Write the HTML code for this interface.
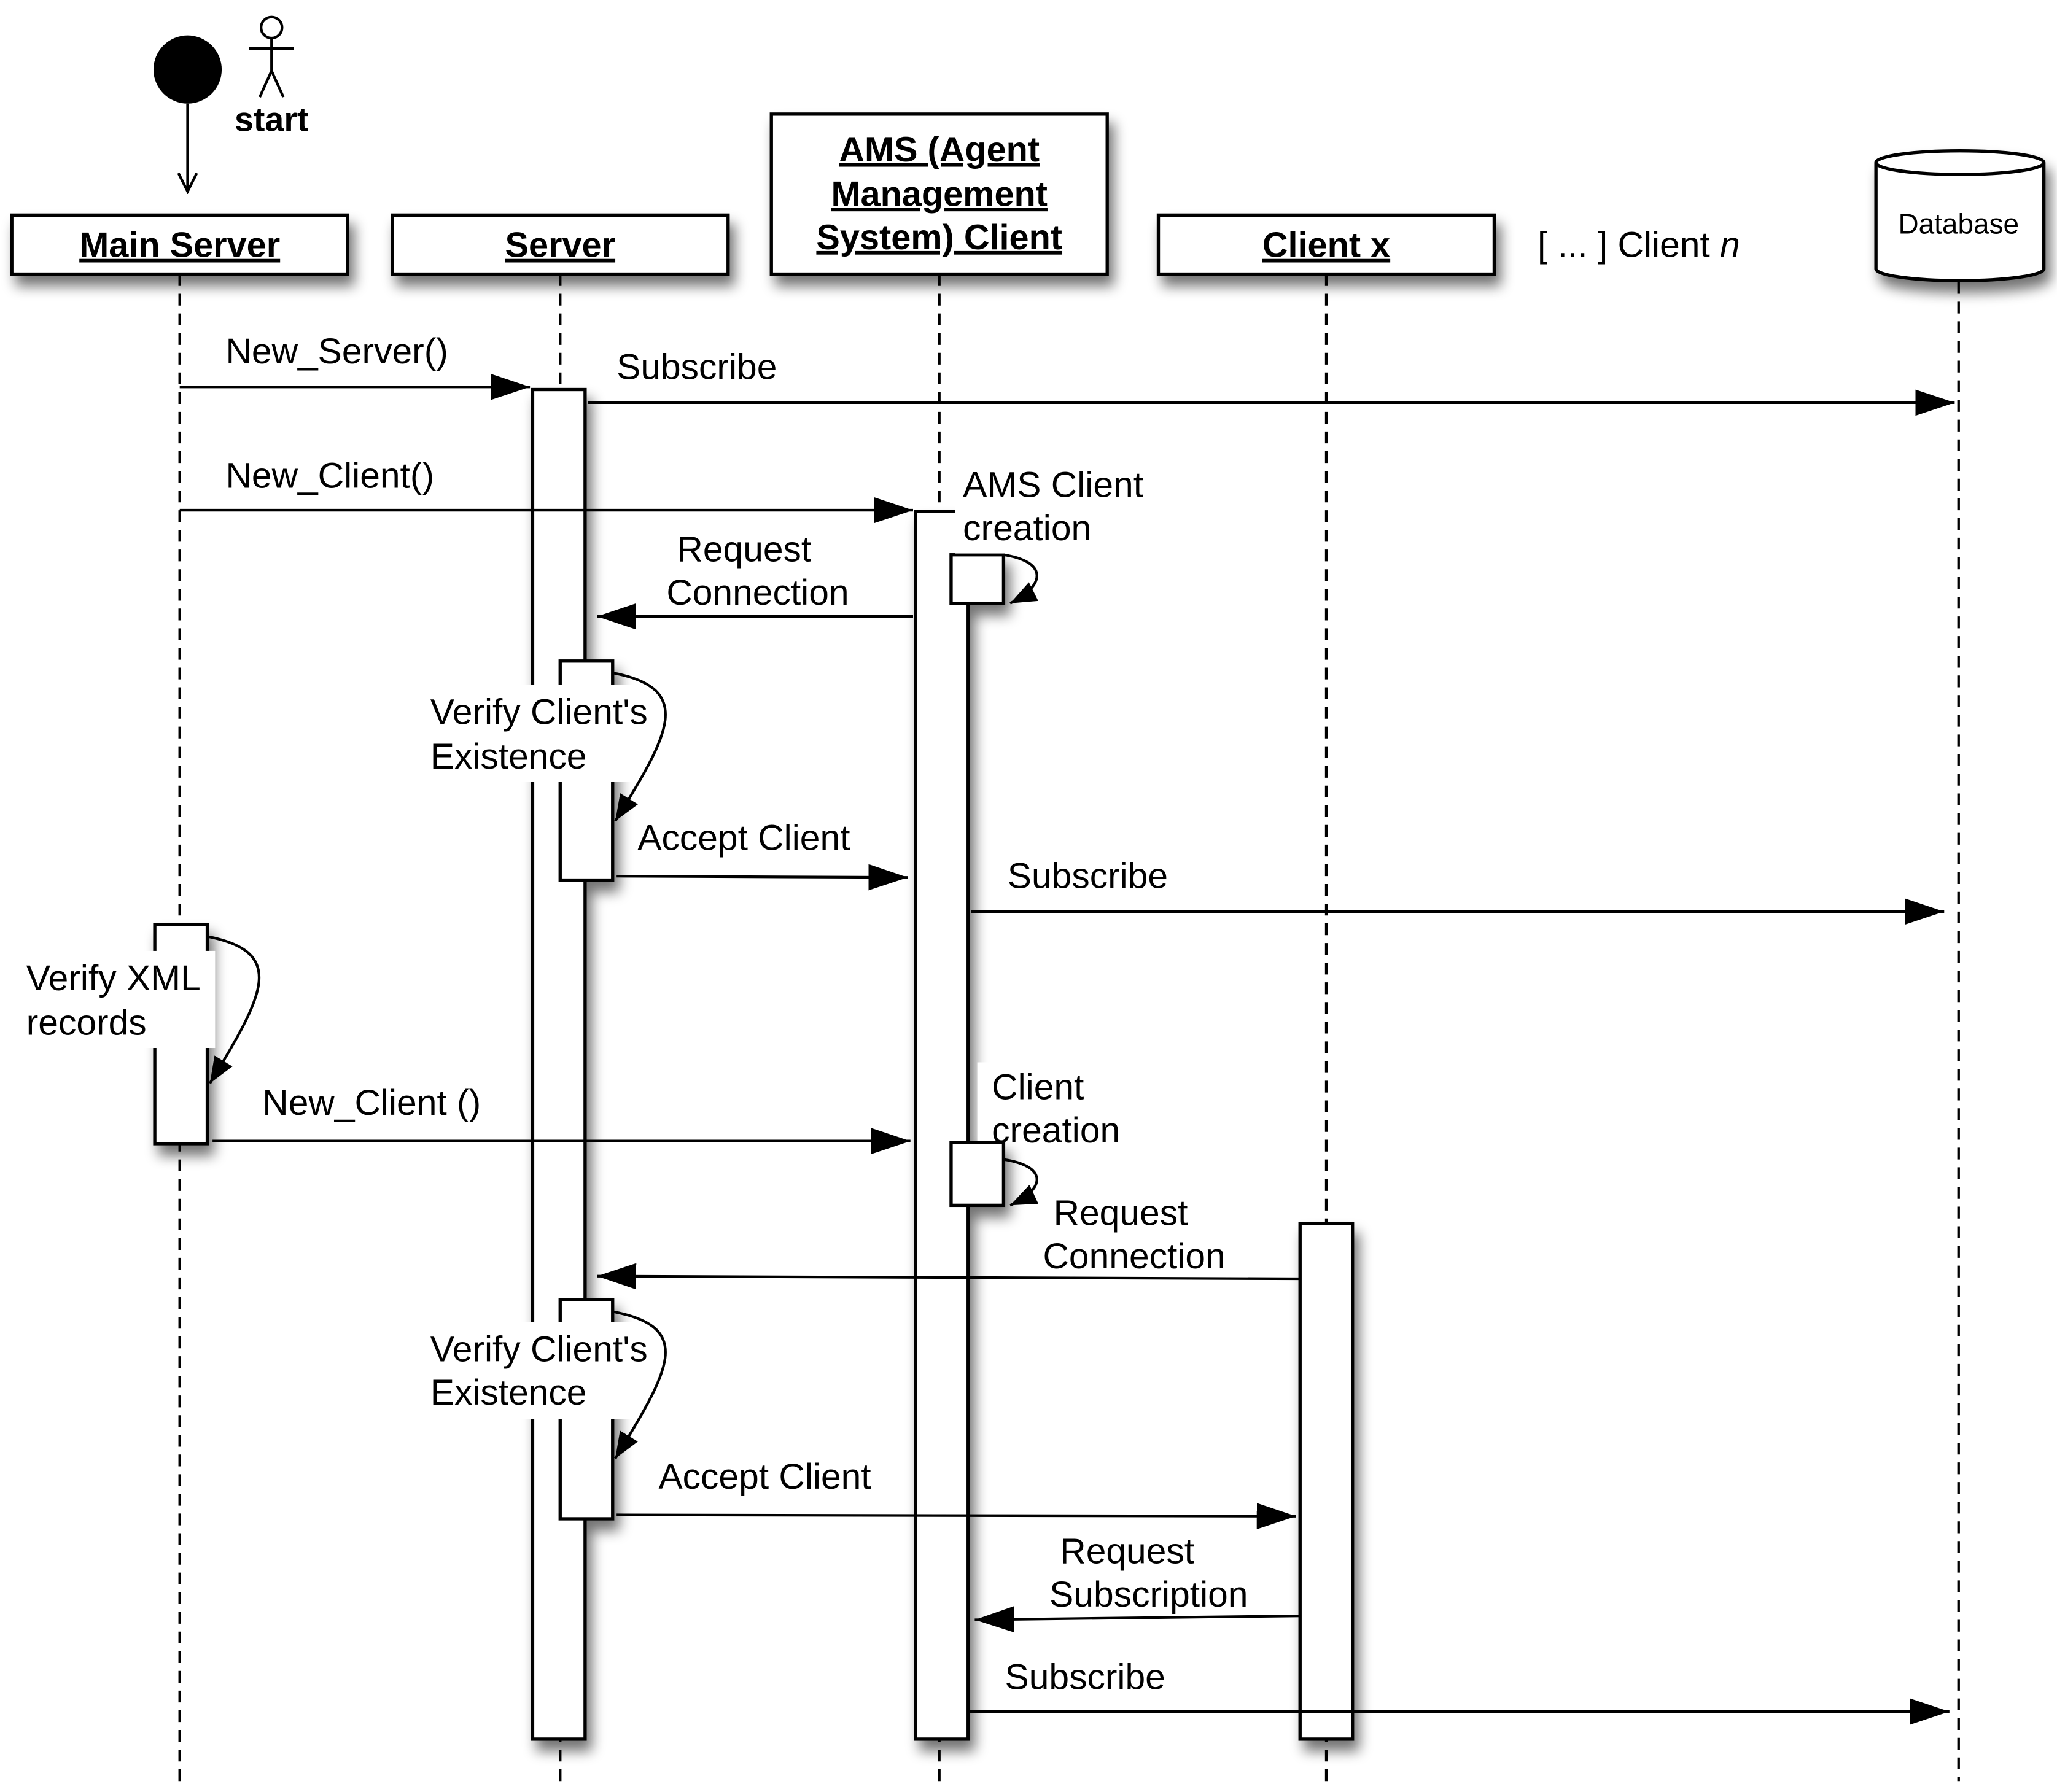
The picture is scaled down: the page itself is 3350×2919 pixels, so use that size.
<!DOCTYPE html>
<html><head><meta charset="utf-8"><style>
html,body{margin:0;padding:0;background:#fff}
svg{display:block}
text{font-family:"Liberation Sans",Arial,sans-serif;fill:#000}
</style></head><body>
<svg width="3350" height="2919" viewBox="0 0 1568 1366.3" preserveAspectRatio="none" xmlns="http://www.w3.org/2000/svg">
<defs>
<filter id="sh" x="-20%" y="-20%" width="150%" height="160%"><feGaussianBlur in="SourceAlpha" stdDeviation="5"/><feOffset dx="4" dy="8"/><feComponentTransfer><feFuncA type="linear" slope="0.55"/></feComponentTransfer><feMerge><feMergeNode/><feMergeNode in="SourceGraphic"/></feMerge></filter>
<marker id="fa" markerWidth="32" markerHeight="20" refX="30" refY="10" orient="auto" markerUnits="userSpaceOnUse"><path d="M0,0 L30,10 L0,20 Z" fill="#000"/></marker>
<marker id="oa" markerWidth="16" markerHeight="16" refX="14" refY="8" orient="auto" markerUnits="userSpaceOnUse"><path d="M0,1 L14,8 L0,15" fill="none" stroke="#000" stroke-width="2"/></marker>
<marker id="sa" markerWidth="22" markerHeight="16" refX="20" refY="8" orient="auto" markerUnits="userSpaceOnUse"><path d="M0,0 L20,8 L0,16 Z" fill="#000"/></marker>
</defs>
<rect width="1568" height="1366.3" fill="#fff"/>
<circle cx="143" cy="53" r="26" fill="#000"/>
<line x1="143" y1="79" x2="143" y2="146" stroke="#000" stroke-width="2" marker-end="url(#oa)"/>
<g stroke="#000" stroke-width="2" fill="none">
<circle cx="207" cy="21" r="8" fill="#fff"/>
<line x1="207" y1="29" x2="207" y2="54"/><line x1="190" y1="37" x2="224" y2="37"/>
<line x1="207" y1="54" x2="198" y2="74"/><line x1="207" y1="54" x2="216" y2="74"/>
</g>
<text x="207" y="100" font-size="26" font-weight="bold" text-anchor="middle">start</text>
<g stroke="#000" stroke-width="2" stroke-dasharray="9,6">
<line x1="137" y1="209" x2="137" y2="1358"/><line x1="427" y1="209" x2="427" y2="1358"/>
<line x1="716" y1="209" x2="716" y2="1358"/><line x1="1011" y1="209" x2="1011" y2="1358"/>
<line x1="1493" y1="215" x2="1493" y2="1358"/>
</g>
<g stroke="#000" stroke-width="2.5" fill="#fff" filter="url(#sh)">
<rect x="9" y="164" width="256" height="45"/>
<rect x="299" y="164" width="256" height="45"/>
<rect x="588" y="87" width="256" height="122"/>
<rect x="883" y="164" width="256" height="45"/>
</g>
<g font-size="27" font-weight="bold" text-anchor="middle" text-decoration="underline">
<text x="137" y="196">Main Server</text>
<text x="427" y="196">Server</text>
<text x="716" y="123">AMS (Agent</text>
<text x="716" y="157">Management</text>
<text x="716" y="190">System) Client</text>
<text x="1011" y="196">Client x</text>
</g>
<text x="1172" y="196" font-size="27.5">[ ... ] Client <tspan font-style="italic">n</tspan></text>
<g filter="url(#sh)" stroke="#000" stroke-width="2.5" fill="#fff">
<path d="M1430,124 L1430,205 A64,9 0 0 0 1558,205 L1558,124"/>
<ellipse cx="1494" cy="124" rx="64" ry="9"/>
</g>
<text x="1493" y="178" font-size="21.5" text-anchor="middle">Database</text>
<g stroke="#000" stroke-width="2.5" fill="#fff" filter="url(#sh)">
<rect x="406" y="297" width="40" height="1029"/>
<rect x="698" y="390" width="40" height="936"/>
<rect x="991" y="933" width="40" height="393"/>
<rect x="118" y="705" width="40" height="167"/>
<rect x="427" y="504" width="40" height="167"/>
<rect x="427" y="991" width="40" height="167"/>
<rect x="725" y="423" width="40" height="37"/>
<rect x="725" y="871" width="40" height="48"/>
</g>
<g fill="#fff">
<rect x="728" y="352" width="155" height="70"/>
<rect x="745" y="810" width="120" height="60"/>
<rect x="322" y="522" width="184" height="74"/>
<rect x="322" y="1008" width="184" height="74"/>
<rect x="14" y="725" width="150" height="74"/>
</g>
<g stroke="#000" stroke-width="2" fill="none">
<path d="M765,423 C798,428 798,446 770,460" marker-end="url(#sa)"/>
<path d="M765,884 C798,889 798,906 770,919" marker-end="url(#sa)"/>
<path d="M467,513 C530,525 510,560 469,626" marker-end="url(#sa)"/>
<path d="M467,1000 C530,1012 510,1045 469,1112" marker-end="url(#sa)"/>
<path d="M158,714 C220,726 200,760 160,826" marker-end="url(#sa)"/>
</g>
<g stroke="#000" stroke-width="2" marker-end="url(#fa)">
<line x1="137" y1="295" x2="404" y2="295"/>
<line x1="448" y1="307" x2="1490" y2="307"/>
<line x1="137" y1="389" x2="696" y2="389"/>
<line x1="696" y1="470" x2="455" y2="470"/>
<line x1="470" y1="668" x2="692" y2="669"/>
<line x1="740" y1="695" x2="1482" y2="695"/>
<line x1="162" y1="870" x2="694" y2="870"/>
<line x1="991" y1="975" x2="455" y2="973"/>
<line x1="470" y1="1155" x2="988" y2="1156"/>
<line x1="991" y1="1232" x2="743" y2="1235"/>
<line x1="738" y1="1305" x2="1486" y2="1305"/>
</g>
<g font-size="27.5">
<text x="172" y="277">New_Server()</text>
<text x="470" y="289">Subscribe</text>
<text x="172" y="372">New_Client()</text>
<text x="734" y="379">AMS Client</text><text x="734" y="412">creation</text>
<text x="516" y="428">Request</text><text x="508" y="461">Connection</text>
<text x="328" y="552">Verify Client's</text><text x="328" y="586">Existence</text>
<text x="486" y="648">Accept Client</text>
<text x="768" y="677">Subscribe</text>
<text x="20" y="755">Verify XML</text><text x="20" y="789">records</text>
<text x="200" y="850">New_Client ()</text>
<text x="756" y="838">Client</text><text x="756" y="871">creation</text>
<text x="803" y="934">Request</text><text x="795" y="967">Connection</text>
<text x="328" y="1038">Verify Client's</text><text x="328" y="1071">Existence</text>
<text x="502" y="1135">Accept Client</text>
<text x="808" y="1192">Request</text><text x="800" y="1225">Subscription</text>
<text x="766" y="1288">Subscribe</text>
</g>
</svg>
</body></html>
